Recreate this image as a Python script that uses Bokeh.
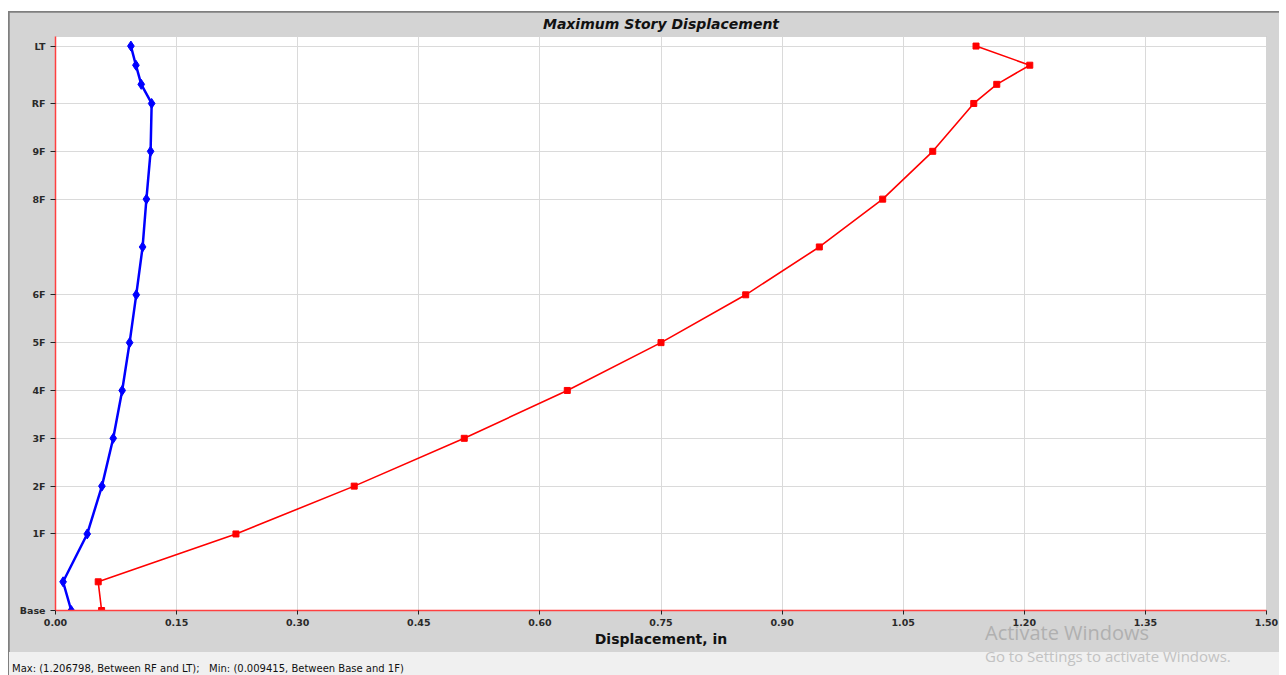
from bokeh.plotting import figure
from bokeh.models import Range1d, FixedTicker, PrintfTickFormatter, Div
from bokeh.layouts import column
from bokeh.embed import file_html
from bokeh.resources import INLINE

# ---- data ----
story_names = ["Base", "Mezz", "1F", "2F", "3F", "4F", "5F", "6F", "7F",
               "8F", "9F", "RF", "PH1", "PH2", "LT"]
story_elev = [0, 6, 16, 26, 36, 46, 56, 66, 76, 86, 96, 106, 110, 114, 118]
disp_blue = [0.0195, 0.0094, 0.0393, 0.0575, 0.0715, 0.0826, 0.0918, 0.1000,
             0.1079, 0.1126, 0.1178, 0.1191, 0.1062, 0.0996, 0.0934]
disp_red = [0.0571, 0.0529, 0.2235, 0.3700, 0.5063, 0.6339, 0.7500, 0.8549,
            0.9461, 1.0246, 1.0866, 1.1374, 1.1659, 1.2068, 1.1402]
y_tick_elev = [0, 16, 26, 36, 46, 56, 66, 86, 96, 106, 118]
y_tick_labels = ["Base", "1F", "2F", "3F", "4F", "5F", "6F", "8F", "9F", "RF", "LT"]
x_ticks = [0.00, 0.15, 0.30, 0.45, 0.60, 0.75, 0.90, 1.05, 1.20, 1.35, 1.50]
title_text = "Maximum Story Displacement"
x_label = "Displacement, in"
footer_text = "Max: (1.206798, Between RF and LT);&nbsp;&nbsp; Min: (0.009415, Between Base and 1F)"
wm_line1 = "Activate Windows"
wm_line2 = "Go to Settings to activate Windows."

FONT = "DejaVu Sans"
GRAY = "#d4d4d4"

p = figure(width=1270, height=640, output_backend="svg", toolbar_location=None,
           x_range=Range1d(0, 1.5), y_range=Range1d(0, 120),
           min_border_left=46, min_border_right=13, min_border_top=24,
           min_border_bottom=42, margin=(1, 0, 0, 1))
p.border_fill_color = GRAY
p.background_fill_color = "white"
p.outline_line_color = None

p.title.text = title_text
p.title.align = "center"
p.title.vertical_align = "top"
p.title.text_font = FONT
p.title.text_font_style = "bold italic"
p.title.text_font_size = "14px"
p.title.text_color = "#111111"
p.title.standoff = 6

# grids
p.xgrid.ticker = FixedTicker(ticks=x_ticks)
p.ygrid.ticker = FixedTicker(ticks=y_tick_elev)
for g in (p.xgrid, p.ygrid):
    g.grid_line_color = "#dadada"
    g.grid_line_width = 1

# x axis
xa = p.xaxis[0]
xa.ticker = FixedTicker(ticks=x_ticks)
xa.formatter = PrintfTickFormatter(format="%.2f")
xa.axis_line_color = "#ff4040"
xa.axis_line_width = 1.5
xa.major_tick_out = 4
xa.major_tick_in = 0
xa.minor_tick_out = 0
xa.minor_tick_in = 0
xa.major_tick_line_color = "#222222"
xa.major_label_text_font = FONT
xa.major_label_text_font_style = "bold"
xa.major_label_text_font_size = "9.5px"
xa.major_label_text_color = "#2a2a2a"
xa.major_label_standoff = 4
xa.axis_label = x_label
xa.axis_label_text_font = FONT
xa.axis_label_text_font_style = "bold"
xa.axis_label_text_font_size = "14px"
xa.axis_label_text_color = "#111111"
xa.axis_label_standoff = 2

# y axis
ya = p.yaxis[0]
ya.ticker = FixedTicker(ticks=y_tick_elev)
ya.major_label_overrides = {e: l for e, l in zip(y_tick_elev, y_tick_labels)}
ya.axis_line_color = "#ff4040"
ya.axis_line_width = 1.5
ya.major_tick_out = 5
ya.major_tick_in = 0
ya.minor_tick_out = 0
ya.minor_tick_in = 0
ya.major_tick_line_color = "#222222"
ya.major_label_text_font = FONT
ya.major_label_text_font_style = "bold"
ya.major_label_text_font_size = "9.5px"
ya.major_label_text_color = "#2a2a2a"
ya.major_label_standoff = 5

# series
p.line(disp_blue, story_elev, line_color="#0000ff", line_width=2.5)
p.scatter(disp_blue, story_elev, marker="diamond", size=10, fill_color="#0000ff",
          line_color="#0000ff")
p.line(disp_red, story_elev, line_color="#ff0000", line_width=1.6)
p.scatter(disp_red, story_elev, marker="square", size=6, fill_color="#ff0000",
          line_color="#ff0000")

footer = Div(
    text=('<div style="position:relative;width:1270px;height:23px;">'
          '<span style="position:absolute;left:3px;top:11px;white-space:nowrap;'
          'font-family:DejaVu Sans;font-size:10px;line-height:12px;color:#111;">'
          + footer_text + '</span>'
          '<span style="position:absolute;left:976px;top:-33px;white-space:nowrap;'
          'font-family:Open Sans;font-size:20px;line-height:27px;color:#b0b0b0;">'
          + wm_line1 + '</span>'
          '<span style="position:absolute;left:976px;top:-6px;white-space:nowrap;'
          'font-family:Open Sans;font-size:15px;line-height:20px;color:#c2c2c2;">'
          + wm_line2 + '</span></div>'),
    width=1270, height=23, margin=(0, 0, 0, 1),
    styles={"background-color": "#f0f0f0", "overflow": "visible", "z-index": "5"})

layout = column(p, footer, spacing=0, margin=(11, 0, 0, 8),
                styles={"background-color": "#7f7f7f"})
open("out.html", "w").write(file_html(layout, INLINE))
